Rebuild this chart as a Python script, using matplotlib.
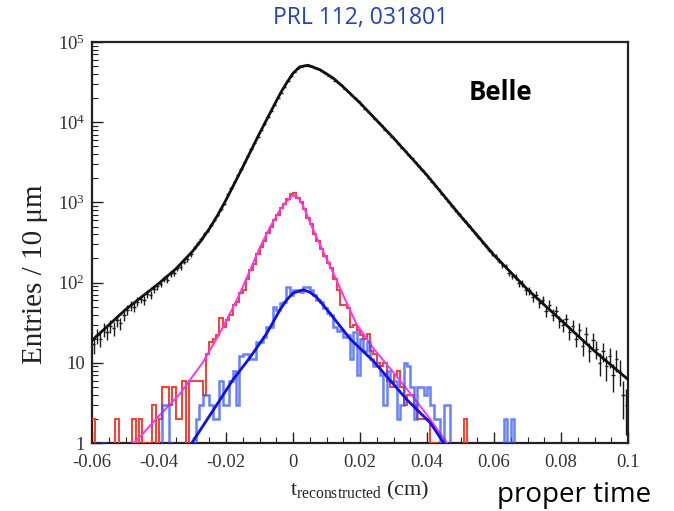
import matplotlib
matplotlib.use("Agg")
import matplotlib.pyplot as plt
import numpy as np
from matplotlib.ticker import FixedLocator, FixedFormatter, MultipleLocator, NullFormatter

# histogram binning: 10 um = 0.001 cm per bin
BIN_WIDTH = 0.001
BLACK_START = -0.060
RED_START = -0.060
BLUE_START = -0.060

# all candidates (black points with error bars), bins -0.060 .. 0.100
black_counts = [
    17, 22, 20, 26, 24, 29, 27, 34, 31, 39,
    46, 52, 50, 58, 63, 61, 73, 70, 84, 90,
    97, 112, 108, 128, 133, 150, 158, 182, 196, 226,
    268, 312, 348, 402, 446, 522, 598, 702, 818, 962,
    1262, 1505, 1822, 2185, 2630, 3165, 3795, 4570, 5500, 6610,
    7940, 9550, 11500, 13800, 16600, 20000, 23400, 27500, 32400, 37200,
    42700, 46800, 49000, 51300, 50700, 49500, 47900, 45700, 43600, 40700,
    38000, 35500, 33100, 30900, 28800, 26300, 24000, 21900, 20000, 18200,
    16600, 14800, 13500, 12300, 11000, 10000, 9100, 8100, 7400, 6600,
    6000, 5400, 4800, 4370, 3900, 3550, 3160, 2880, 2570, 2290,
    2040, 1820, 1620, 1450, 1290, 1150, 1020, 890, 795, 710,
    630, 575, 510, 455, 405, 365, 325, 290, 255, 230,
    212, 188, 166, 160, 133, 121, 118, 98, 97, 80,
    80, 66, 71, 56, 61, 44, 53, 40, 44, 33,
    30, 35, 24, 29, 20, 26, 16, 23, 14, 19,
    15, 10, 14, 9, 12, 7, 11, 8, 4, 3,
]

# black fit curve
black_fit_t = [-0.060, -0.050, -0.040, -0.035, -0.030, -0.0275, -0.025, -0.0225,
               -0.020, -0.015, -0.010, -0.005, -0.0035, -0.002, 0.0, 0.002,
               0.0045, 0.008, 0.012, 0.015, 0.020, 0.030, 0.040, 0.050,
               0.060, 0.070, 0.080, 0.090, 0.100]
black_fit_y = [19, 46, 98, 148, 245, 331, 468, 692,
               1072, 2754, 7244, 18300, 24000, 30400, 40700, 49000,
               51300, 45200, 35500, 27500, 17400, 6350, 2180, 680,
               220, 82, 34, 14, 6.2]

# red histogram, bins -0.060 .. 0.060
red_counts = [
    2, 0, 0, 0, 0, 0, 0, 2, 0, 0,
    0, 0, 2, 1, 2, 1, 0, 1, 3, 1,
    2, 5, 5, 3, 5, 2, 2, 6, 0, 6,
    6, 6, 6, 4, 13, 18, 20, 22, 36, 28,
    34, 40, 52, 58, 75, 80, 110, 145, 170, 225,
    280, 330, 420, 500, 610, 700, 860, 960, 1110, 1280,
    1300, 1150, 1000, 830, 640, 540, 400, 330, 260, 215,
    175, 150, 110, 80, 52, 52, 48, 28, 30, 26,
    22, 20, 23, 14, 13, 10, 9, 10, 6, 5,
    7, 8, 5, 3, 4, 4, 3, 2, 2, 2,
    2, 1, 1, 0, 1, 0, 0, 0, 0, 0,
    0, 2, 0, 0, 0, 0, 0, 0, 0, 0,
]

# magenta fit for the red histogram
red_fit_t = [-0.0475, -0.0457, -0.040, -0.034, -0.030, -0.027, -0.022, -0.019,
             -0.016, -0.013, -0.010, -0.007, -0.004, -0.002, 0.0, 0.0015,
             0.003, 0.006, 0.010, 0.013, 0.016, 0.019, 0.024, 0.030,
             0.035, 0.040, 0.046]
red_fit_y = [1.0, 1.19, 2.19, 3.98, 6.76, 10.0, 22.9, 39.8,
             70.8, 138, 269, 479, 794, 1023, 1230, 1150,
             912, 457, 200, 107, 56.2, 30.2, 15.1, 7.59,
             4.17, 2.24, 1.0]

# blue histogram, bins -0.060 .. 0.070
blue_counts = [
    0, 0, 0, 1, 0, 0, 0, 0, 0, 0,
    0, 0, 0, 0, 0, 0, 0, 0, 0, 0,
    0, 3, 3, 1, 0, 0, 0, 0, 0, 0,
    1, 2, 3, 4, 4, 3, 2, 2, 6, 3,
    3, 6, 8, 3, 12, 13, 13, 11, 11, 18,
    18, 21, 28, 28, 50, 45, 55, 58, 88, 70,
    80, 80, 76, 88, 88, 80, 70, 60, 58, 48,
    42, 40, 28, 25, 26, 21, 22, 11, 24, 7,
    20, 14, 18, 11, 9, 9, 7, 3, 8, 6,
    6, 2, 3, 10, 9, 5, 2, 5, 5, 4,
    5, 3, 2, 2, 1, 3, 3, 0, 0, 0,
    0, 0, 0, 0, 0, 0, 0, 0, 0, 0,
    0, 0, 0, 2, 1, 2, 0, 0, 0, 0,
]

# blue fit
blue_fit_t = [-0.0302, -0.0238, -0.0179, -0.0128, -0.0078, -0.0039, -0.002, 0.0,
              0.003, 0.005, 0.007, 0.011, 0.017, 0.024, 0.034, 0.041, 0.045]
blue_fit_y = [1.0, 2.57, 6.17, 11.7, 23.4, 45.7, 60.0, 74.1,
              81.3, 76.0, 66.1, 41.7, 20.0, 10.5, 3.47, 1.78, 1.0]

x_ticks = [-0.06, -0.04, -0.02, 0.0, 0.02, 0.04, 0.06, 0.08, 0.1]
x_tick_labels = ["-0.06", "-0.04", "-0.02", "0", "0.02", "0.04", "0.06", "0.08", "0.1"]
y_ticks = [1, 10, 100, 1000, 10000, 100000]
y_tick_labels = ["1", "10", r"$10^{2}$", r"$10^{3}$", r"$10^{4}$", r"$10^{5}$"]


def edges_for(start, counts):
    return start + BIN_WIDTH * np.arange(len(counts) + 1)


plt.rcParams["font.family"] = "Liberation Serif"
plt.rcParams["mathtext.fontset"] = "custom"
plt.rcParams["mathtext.rm"] = "Liberation Serif"
plt.rcParams["mathtext.it"] = "Liberation Serif:italic"

fig = plt.figure(figsize=(6.74, 5.11), dpi=100)
ax = fig.add_axes([92 / 674, 68 / 511, 536 / 674, 401 / 511])

# black points
black_edges = edges_for(BLACK_START, black_counts)
black_centers = 0.5 * (black_edges[:-1] + black_edges[1:])
black_arr = np.array(black_counts, dtype=float)
ax.errorbar(black_centers, black_arr, yerr=np.sqrt(black_arr), xerr=BIN_WIDTH / 2,
            fmt="none", ecolor="#1a1a1a", elinewidth=1.0, zorder=2)
ax.plot(black_fit_t, black_fit_y, color="#111111", lw=2.0, zorder=3)

# red + magenta
ax.stairs(red_counts, edges_for(RED_START, red_counts), baseline=None,
          color="#ff3a2a", lw=1.4, zorder=4)
ax.plot(red_fit_t, red_fit_y, color="#ff30ff", lw=1.4, zorder=5)

# blue
ax.stairs(blue_counts, edges_for(BLUE_START, blue_counts), baseline=None,
          color="#3355ff", lw=1.8, alpha=0.75, zorder=6)
ax.plot(blue_fit_t, blue_fit_y, color="#1010ee", lw=2.0, zorder=7)

ax.set_yscale("log")
ax.set_xlim(-0.06, 0.1)
ax.set_ylim(1, 1e5)

ax.xaxis.set_major_locator(FixedLocator(x_ticks))
ax.xaxis.set_major_formatter(FixedFormatter(x_tick_labels))
ax.xaxis.set_minor_locator(MultipleLocator(0.005))
ax.yaxis.set_major_locator(FixedLocator(y_ticks))
ax.yaxis.set_major_formatter(FixedFormatter(y_tick_labels))
ax.yaxis.set_minor_locator(FixedLocator([m * 10 ** e for e in range(0, 5) for m in range(2, 10)]))
ax.yaxis.set_minor_formatter(NullFormatter())

ax.tick_params(which="both", direction="in", top=False, right=False,
               labelsize=13.5, labelcolor="#333333", color="#222222")
ax.tick_params(which="major", length=8, width=1.0)
ax.tick_params(which="minor", length=4, width=0.8)
ax.tick_params(axis="x", pad=8)
ax.tick_params(axis="y", pad=5)
for sp in ax.spines.values():
    sp.set_linewidth(1.6)
    sp.set_color("#222222")

ax.set_xlabel(r"t$_{\mathregular{reconstructed}}$ (cm)", fontsize=16, color="#222222", labelpad=6)
ax.set_ylabel("Entries / 10 \u03bcm", fontsize=21, color="#222222")
ax.yaxis.set_label_coords(-0.082, 0.42)

fig.text(361 / 674, 1 - 18 / 511, "PRL 112, 031801", family="Open Sans",
         fontsize=16.5, color="#1f3fd6", ha="center", va="center")
fig.text(469 / 674, 1 - 93 / 511, "Belle", family="Open Sans", fontweight="bold",
         fontsize=18.5, color="black", ha="left", va="center")
fig.text(497 / 674, 1 - 495 / 511, "proper time", family="Open Sans",
         fontsize=20, color="black", ha="left", va="center")

fig.savefig("out.png", dpi=100)
